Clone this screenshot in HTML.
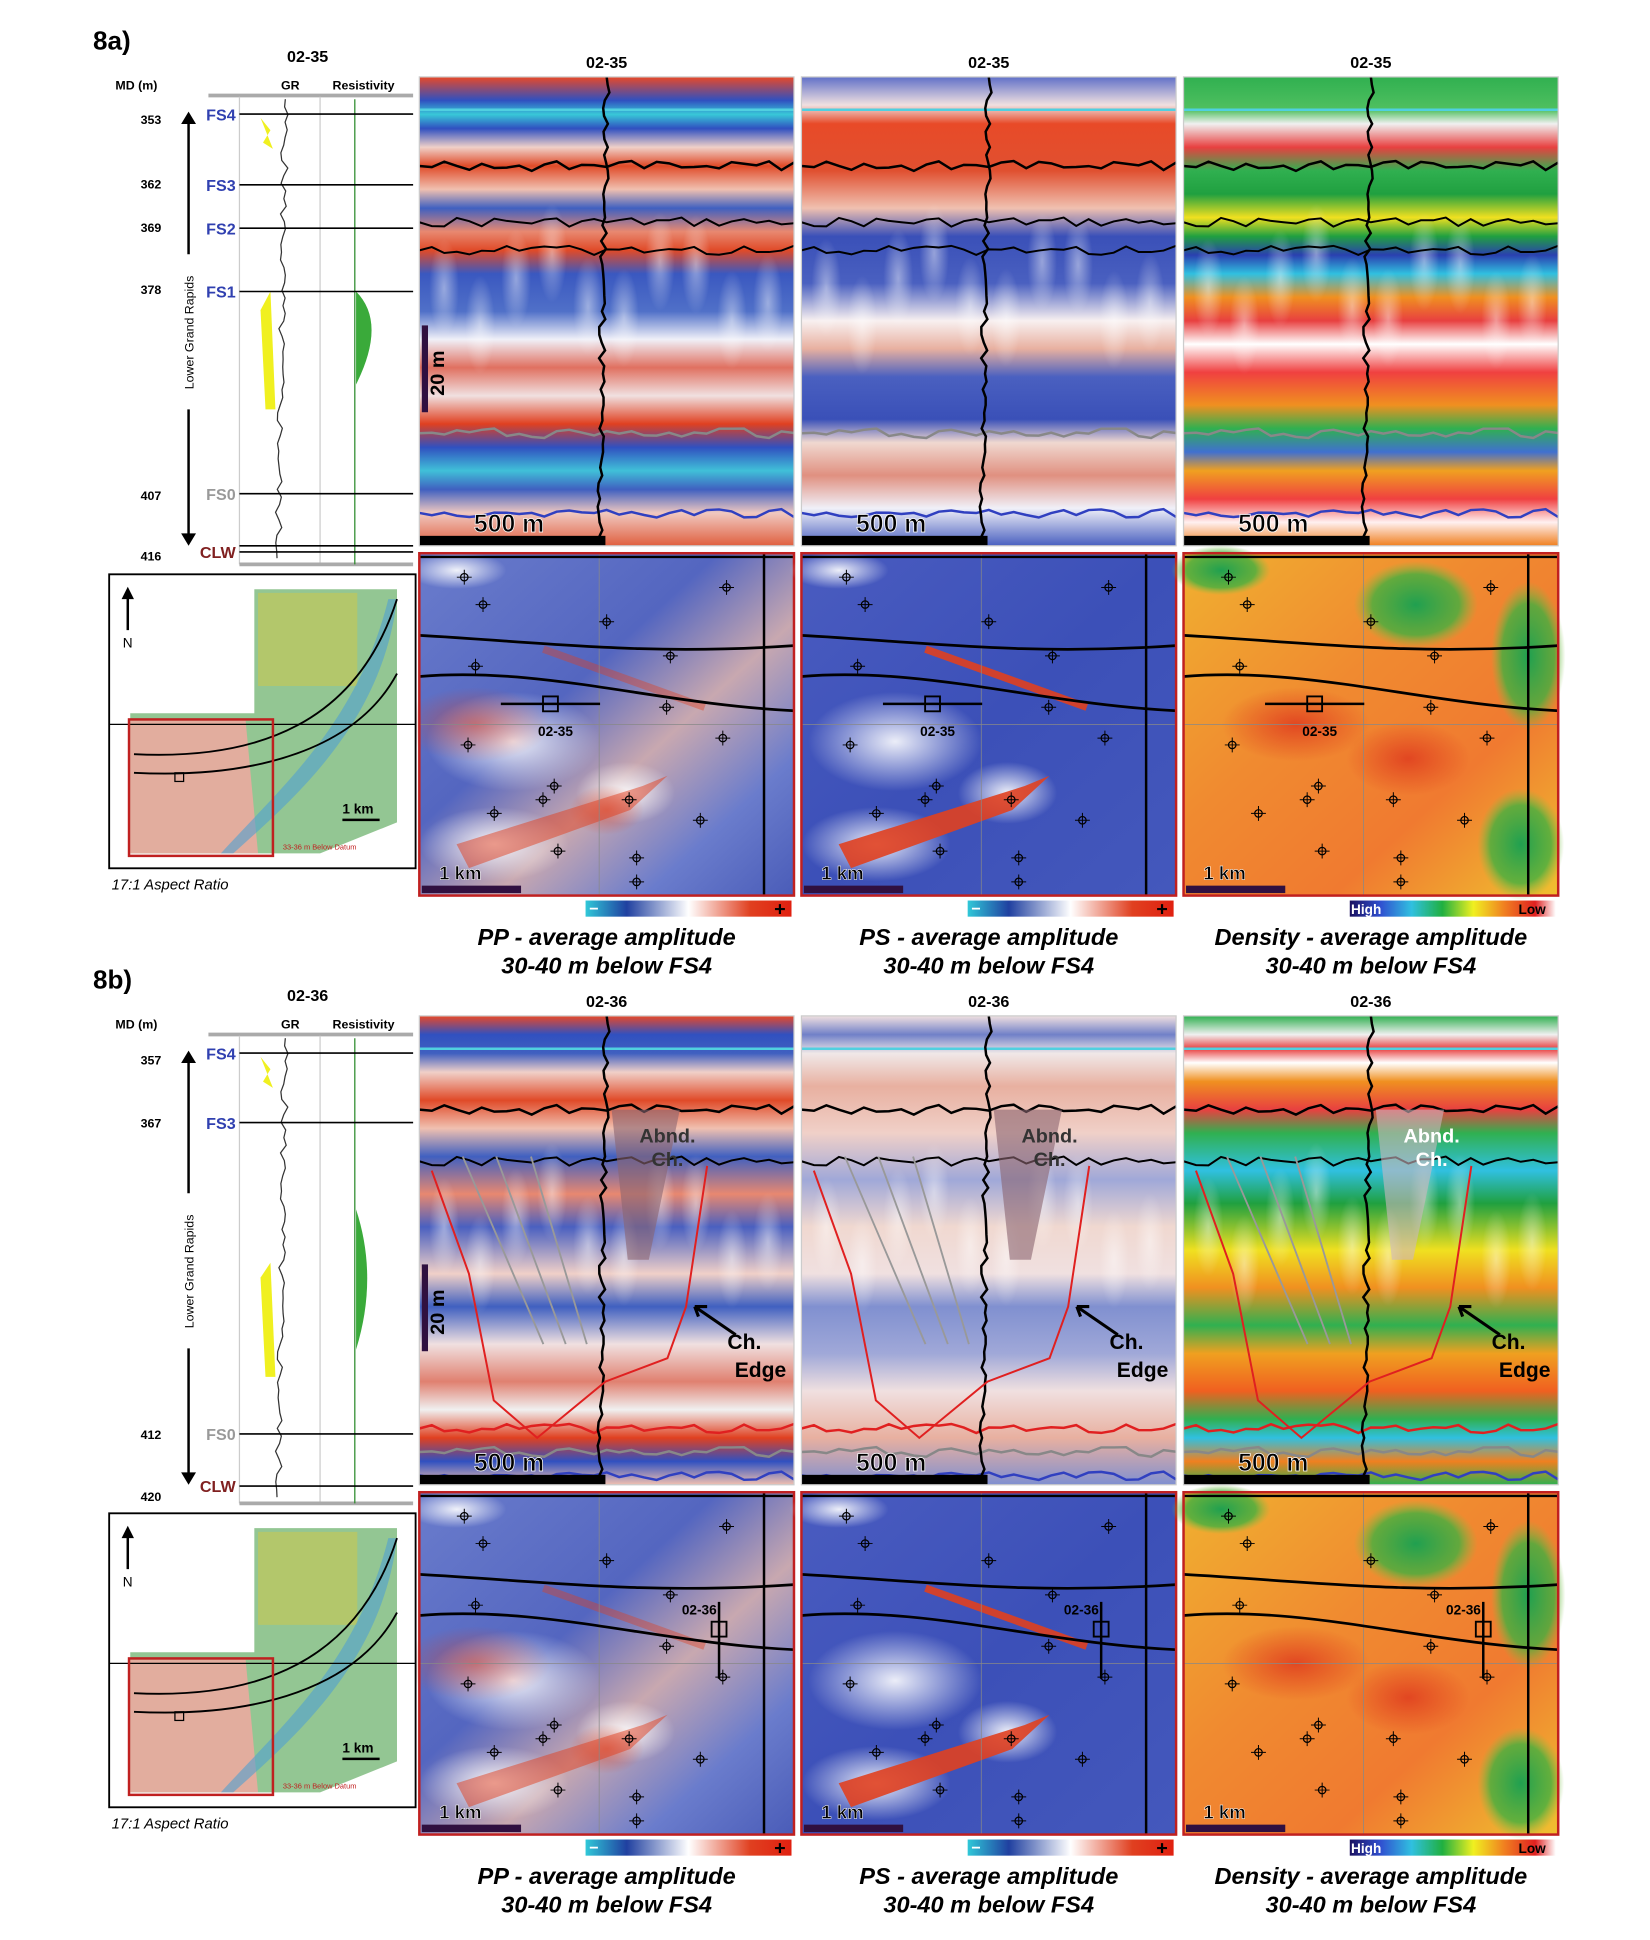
<!DOCTYPE html>
<html><head><meta charset="utf-8"><style>
html,body{margin:0;padding:0;background:#fff;width:1650px;height:1940px;overflow:hidden}
svg text{font-family:"Liberation Sans",sans-serif}
</style></head><body>
<svg id="fig" width="1650" height="1940" viewBox="0 0 1330 1564" preserveAspectRatio="none" xmlns="http://www.w3.org/2000/svg">
<defs>
<linearGradient id="cbPP" x1="0" x2="1"><stop offset="0" stop-color="#30c8d8"/><stop offset=".2" stop-color="#2040a0"/><stop offset=".5" stop-color="#ffffff"/><stop offset=".8" stop-color="#e04020"/><stop offset="1" stop-color="#e02010"/></linearGradient>
<linearGradient id="cbD" x1="0" x2="1"><stop offset="0" stop-color="#1a1060"/><stop offset=".15" stop-color="#3050d0"/><stop offset=".3" stop-color="#30c0e0"/><stop offset=".45" stop-color="#20b040"/><stop offset=".6" stop-color="#f0f020"/><stop offset=".75" stop-color="#f08020"/><stop offset=".9" stop-color="#e02020"/><stop offset="1" stop-color="#ffffff"/></linearGradient>
<linearGradient id="mapPP" x1="0" y1="0" x2="1" y2="1"><stop offset="0" stop-color="#6a7ccc"/><stop offset=".4" stop-color="#5466c0"/><stop offset=".6" stop-color="#c8a8b0"/><stop offset=".8" stop-color="#6a7ccc"/><stop offset="1" stop-color="#4a5cb8"/></linearGradient>
<linearGradient id="mapPS" x1="0" y1="0" x2="1" y2="1"><stop offset="0" stop-color="#4a5cc0"/><stop offset=".5" stop-color="#3c50b8"/><stop offset="1" stop-color="#4458bc"/></linearGradient>
<linearGradient id="mapD" x1="0" y1="0" x2="1" y2="1"><stop offset="0" stop-color="#f0b030"/><stop offset=".4" stop-color="#f08a30"/><stop offset=".7" stop-color="#f07a30"/><stop offset="1" stop-color="#f0c030"/></linearGradient>
<radialGradient id="grn"><stop offset="0" stop-color="#20a050"/><stop offset=".7" stop-color="#40b040" stop-opacity=".8"/><stop offset="1" stop-color="#80c040" stop-opacity="0"/></radialGradient>
<radialGradient id="wht"><stop offset="0" stop-color="#ffffff" stop-opacity=".9"/><stop offset="1" stop-color="#ffffff" stop-opacity="0"/></radialGradient>
<radialGradient id="red"><stop offset="0" stop-color="#e04020" stop-opacity=".9"/><stop offset="1" stop-color="#e04020" stop-opacity="0"/></radialGradient>
</defs>
</svg>
<script>
const NS='http://www.w3.org/2000/svg';
const svg=document.getElementById('fig');
// data arrays
const depthsA=[353,362,369,378,407,416];
const depthYA=[96,148,183,233,399,448];
const topsA=['FS4','FS3','FS2','FS1','FS0','CLW'];
const topYA=[92,149,184,235,398,445];
const depthsB=[357,367,412,420];
const depthYB=[854,905,1156,1206];
const topsB=['FS4','FS3','FS0','CLW'];
const topYB=[849,905,1156,1198];
const panelTitles=['PP - average amplitude','PS - average amplitude','Density - average amplitude'];
const ppBands=[[0,'#e84828'],[.05,'#3050c0'],[.08,'#38c8d8'],[.11,'#3050c0'],[.15,'#f0d0c8'],[.19,'#e04a28'],[.24,'#f0c0b0'],[.28,'#4060c0'],[.33,'#e88870'],[.37,'#e04a28'],[.42,'#3a58c0'],[.5,'#5070c8'],[.56,'#f0f0f8'],[.62,'#e07060'],[.68,'#f0e0e0'],[.74,'#e04020'],[.79,'#3050c0'],[.84,'#40c0d8'],[.88,'#4060c0'],[.93,'#f0c8c0'],[1,'#e06040']];
const psBands=[[0,'#6070c8'],[.06,'#f0e0e0'],[.1,'#e84a28'],[.2,'#e05030'],[.28,'#f0c0b0'],[.34,'#3a50b8'],[.44,'#4a60c0'],[.52,'#f8f0f0'],[.58,'#e8b0a0'],[.64,'#4a60c0'],[.73,'#3a50b8'],[.78,'#f0d8d0'],[.85,'#e09080'],[.92,'#f0f0f8'],[1,'#4a60c0']];
const dBands=[[0,'#30b050'],[.07,'#50c060'],[.1,'#f0f0f0'],[.15,'#e84040'],[.2,'#30b050'],[.25,'#20a040'],[.3,'#f0e020'],[.34,'#20a040'],[.38,'#2a40b0'],[.42,'#30c0e0'],[.47,'#f09020'],[.52,'#e84040'],[.57,'#ffffff'],[.63,'#f04040'],[.7,'#f09020'],[.75,'#30b050'],[.8,'#4070d0'],[.84,'#f0a020'],[.9,'#f04040'],[.95,'#fff0f0'],[1,'#f08020']];
const ppBandsB=[[0,'#e84828'],[.04,'#3050c0'],[.08,'#4060c0'],[.12,'#f0d0c8'],[.18,'#e04a28'],[.24,'#f0c0b0'],[.3,'#4060c0'],[.38,'#e88870'],[.45,'#4a60c0'],[.55,'#f0d0c8'],[.62,'#4060c0'],[.7,'#f0e0e0'],[.78,'#e08070'],[.84,'#f0f0f0'],[.9,'#e04020'],[.95,'#3050c0'],[1,'#f0c0b0']];
const psBandsB=[[0,'#f0e0e0'],[.04,'#7080c8'],[.08,'#f0e8e8'],[.15,'#e8b0a0'],[.25,'#f0d0c8'],[.35,'#a0a8d8'],[.45,'#f0d8d0'],[.55,'#f0e0e0'],[.62,'#8090d0'],[.72,'#a0a8d8'],[.8,'#f0e0e0'],[.9,'#e8b0a0'],[1,'#8090d0']];
const dBandsB=[[0,'#30b050'],[.04,'#f0f0f0'],[.07,'#e84040'],[.1,'#ffffff'],[.14,'#f09020'],[.2,'#e84040'],[.25,'#30b050'],[.33,'#30c0e0'],[.4,'#20a040'],[.5,'#f0e020'],[.58,'#f09020'],[.66,'#30b050'],[.72,'#f0a020'],[.8,'#f06020'],[.86,'#30b050'],[.9,'#30c0e0'],[.95,'#f08020'],[1,'#30b050']];
const horizA=[[.07,'#50d0e0',2],[.19,'#000',2],[.31,'#000',1.6],[.37,'#000',1.6],[.76,'#888',2],[.93,'#3040c0',2]];
const horizB=[[.07,'#50d0e0',2],[.2,'#000',2],[.31,'#000',1.6],[.88,'#e02020',2],[.93,'#888',2],[.98,'#3040c0',2]];
const wellsMap=[[.12,.07],[.17,.15],[.5,.2],[.67,.3],[.82,.1],[.15,.33],[.66,.45],[.13,.56],[.81,.54],[.36,.68],[.33,.72],[.56,.72],[.2,.76],[.75,.78],[.37,.87],[.58,.89],[.58,.96]];
let uid=0;
function el(tag,attrs,parent,name,inter){const e=document.createElementNS(NS,tag);for(const k in attrs)e.setAttribute(k,attrs[k]);if(name){}(parent||svg).appendChild(e);return e;}
function txt(x,y,s,opts,parent,name){const t=el('text',Object.assign({x:x,y:y},opts||{}),parent,name,false);t.textContent=s;return t;}
function grad(bands){const id='g'+(uid++);const defs=svg.querySelector('defs');const g=el('linearGradient',{id:id,x1:0,y1:0,x2:0,y2:1},defs);bands.forEach(b=>el('stop',{offset:b[0],'stop-color':b[1]},g));return id;}
function jag(x0,y,w,amp,seed){let d='M'+x0+' '+y;let s=seed;for(let i=1;i<=30;i++){s=(s*9301+49297)%233280;d+=' L'+(x0+w*i/30).toFixed(1)+' '+(y+(s/233280-.5)*amp).toFixed(1);}return d;}
function wellTrace(x,y0,h,seed){let d='M'+x+' '+y0;let s=seed;for(let i=1;i<=60;i++){s=(s*9301+49297)%233280;d+=' L'+(x+(s/233280-.5)*6 - i*0.1).toFixed(1)+' '+(y0+h*i/60).toFixed(1);}return d;}

function seismic(x,y,bands,horiz,isB,kind){
  const w=302,h=378;
  const g=el('g',{},svg,'seismic-section-'+kind,false);
  el('rect',{x:x,y:y,width:w,height:h,fill:'url(#'+grad(bands)+')'},g,'seismic-image',false);
  // texture
  for(let i=0;i<10;i++){el('ellipse',{cx:x+20+i*29,cy:y+h*(.45+.08*Math.sin(i*1.7)),rx:12,ry:40,fill:'url(#wht)',opacity:.5},g);}
  horiz.forEach((hz,i)=>el('path',{d:hz[1]=='#50d0e0'?('M'+x+' '+(y+h*hz[0])+' h'+w):jag(x,y+h*hz[0],w,8,i*7+3),stroke:hz[1],'stroke-width':hz[2],fill:'none'},g,'horizon-line',false));
  el('path',{d:wellTrace(x+w*.5,y,h,11),stroke:'#000','stroke-width':2,fill:'none'},g,'well-trace',false);
  if(isB){
    el('path',{d:`M${x+10} ${y+h*.33} L${x+40} ${y+h*.55} L${x+60} ${y+h*.82} L${x+95} ${y+h*.9} L${x+150} ${y+h*.78} L${x+200} ${y+h*.73} L${x+215} ${y+h*.62} L${x+232} ${y+h*.32}`,stroke:'#e02020','stroke-width':1.6,fill:'none'},g,'channel-edge-line',false);
    el('path',{d:`M${x+155} ${y+h*.2} L${x+210} ${y+h*.2} L${x+185} ${y+h*.52} L${x+168} ${y+h*.52} Z`,fill:kind=='density'?'#cdb8c0':'#8a6470',opacity:.6},g,'abandoned-channel-shade',false);
    const ab=txt(x+200,y+h*.27,'Abnd.',{'font-size':16,'font-weight':'bold','text-anchor':'middle',fill:kind=='density'?'#fff':'#333'},g,'abandoned-channel-label');
    txt(x+200,y+h*.32,'Ch.',{'font-size':16,'font-weight':'bold','text-anchor':'middle',fill:kind=='density'?'#fff':'#333'},g,'abandoned-channel-label-2');
    [[35,100],[62,118],[90,135]].forEach(a=>el('path',{d:`M${x+a[0]} ${y+h*.3} L${x+a[1]} ${y+h*.7}`,stroke:'#999','stroke-width':1.5,fill:'none'},g,'flow-arrow',false));
    el('path',{d:`M${x+255} ${y+h*.68} L${x+222} ${y+h*.62} M${x+222} ${y+h*.62} l10 0 M${x+222} ${y+h*.62} l3 8`,stroke:'#000','stroke-width':2.5,fill:'none'},g,'channel-edge-arrow',false);
    txt(x+262,y+h*.71,'Ch.',{'font-size':17,'font-weight':'bold','text-anchor':'middle'},g,'channel-edge-label');
    txt(x+275,y+h*.77,'Edge',{'font-size':17,'font-weight':'bold','text-anchor':'middle'},g,'channel-edge-label-2');
  }
  if(kind=='pp'){el('rect',{x:x+2,y:y+h*.53,width:5,height:70,fill:'#301040'},g,'vertical-scale-bar',false);
    txt(x+20,y+h*.68,'20 m',{'font-size':16,'font-weight':'bold',transform:`rotate(-90 ${x+20} ${y+h*.68})`},g,'vertical-scale-label');}
  el('rect',{x:x,y:y+h-8,width:150,height:8,fill:'#000'},g,'horizontal-scale-bar',false);
  txt(x+44,y+h-11,'500 m',{'font-size':20,'font-weight':'bold',stroke:'#fff','stroke-width':.6},g,'horizontal-scale-label');
  el('rect',{x:x,y:y,width:w,height:h,fill:'none',stroke:'#ccc','stroke-width':1},g);
}
function mapPanel(x,y,kind,isB,label){
  const w=302,h=276;
  const g=el('g',{},svg,'map-'+kind,false);
  el('rect',{x:x,y:y,width:w,height:h,fill:kind=='density'?'url(#mapD)':kind=='pp'?'url(#mapPP)':'url(#mapPS)'},g,'map-image',false);
  if(kind=='density'){[[.62,.15,50,35],[.92,.3,30,60],[.9,.85,35,45],[.1,.05,40,20]].forEach(b=>el('ellipse',{cx:x+w*b[0],cy:y+h*b[1],rx:b[2],ry:b[3],fill:'url(#grn)'},g));
    [[.3,.5,60,30],[.6,.6,50,30]].forEach(b=>el('ellipse',{cx:x+w*b[0],cy:y+h*b[1],rx:b[2],ry:b[3],fill:'url(#red)'},g));}
  else{[[.25,.55,70,40],[.2,.85,60,30],[.55,.7,40,25],[.1,.05,40,15]].forEach(b=>el('ellipse',{cx:x+w*b[0],cy:y+h*b[1],rx:b[2],ry:b[3],fill:'url(#wht)'},g));
    if(kind=='pp')[[.15,.5,60,30],[.5,.75,30,20]].forEach(b=>el('ellipse',{cx:x+w*b[0],cy:y+h*b[1],rx:b[2],ry:b[3],fill:'url(#red)',opacity:.6},g));
    el('path',{d:`M${x+40} ${y+h*.92} L${x+170} ${y+h*.75} L${x+200} ${y+h*.65} L${x+180} ${y+h*.68} L${x+30} ${y+h*.85}Z`,fill:'#e04020',opacity:kind=='ps'?.9:.5},g,'red-feature',false);
    el('path',{d:`M${x+100} ${y+h*.28} L${x+230} ${y+h*.45}`,stroke:'#e04020','stroke-width':6,opacity:kind=='ps'?.9:.4},g,'red-channel',false);}
  el('path',{d:`M${x+w*.48} ${y} V${y+h} M${x} ${y+h*.5} H${x+w}`,stroke:'#888','stroke-width':.6,fill:'none'},g,'grid',false);
  el('path',{d:`M${x} ${y+h*.24} C${x+100} ${y+h*.26} ${x+180} ${y+h*.3} ${x+w} ${y+h*.27}`,stroke:'#000','stroke-width':2.2,fill:'none'},g,'fault-line',false);
  el('path',{d:`M${x} ${y+h*.36} C${x+100} ${y+h*.33} ${x+190} ${y+h*.44} ${x+w} ${y+h*.46}`,stroke:'#000','stroke-width':2.2,fill:'none'},g,'fault-line',false);
  el('path',{d:`M${x+w*.92} ${y} V${y+h}`,stroke:'#000','stroke-width':2,fill:'none'},g,'boundary-line',false);
  el('path',{d:`M${x} ${y+3} H${x+w}`,stroke:'#000','stroke-width':2,fill:'none'},g);
  wellsMap.forEach(p=>{const cx=x+w*p[0],cy=y+h*p[1];const wg=el('g',{},g,'well-symbol',true);
    el('circle',{cx:cx,cy:cy,r:3,fill:'none',stroke:'#000','stroke-width':1},wg);
    el('path',{d:`M${cx-6} ${cy}H${cx+6}M${cx} ${cy-6}V${cy+6}`,stroke:'#000','stroke-width':.8},wg);});
  const wx=isB?x+w*.8:x+w*.35, wy=isB?y+h*.4:y+h*.44;
  el('rect',{x:wx-6,y:wy-6,width:12,height:12,fill:'none',stroke:'#000','stroke-width':1.5},g,'well-location',true);
  if(isB)el('path',{d:`M${wx} ${wy-22}V${wy+40}`,stroke:'#000','stroke-width':2},g);
  else el('path',{d:`M${wx-40} ${wy}H${wx+40}`,stroke:'#000','stroke-width':2},g);
  txt(isB?wx-30:wx-10,isB?wy-12:wy+26,label,{'font-size':11,'font-weight':'bold'},g,'well-label');
  el('rect',{x:x+2,y:y+h-8,width:80,height:6,fill:'#301040'},g,'map-scale-bar',false);
  txt(x+16,y+h-13,'1 km',{'font-size':15,'font-weight':'bold',stroke:'#fff','stroke-width':.4},g,'map-scale-label');
  el('rect',{x:x,y:y,width:w,height:h,fill:'none',stroke:'#c02020','stroke-width':2},g,'map-frame',false);
  const cb=el('g',{},svg,'colorbar-'+kind,false);
  el('rect',{x:x+134,y:y+280,width:166,height:13,fill:kind=='density'?'url(#cbD)':'url(#cbPP)'},cb,'colorbar',false);
  if(kind=='density'){txt(x+135,y+291,'High',{'font-size':11,'font-weight':'bold',fill:'#fff'},cb,'colorbar-high-label');txt(x+270,y+291,'Low',{'font-size':11,'font-weight':'bold'},cb,'colorbar-low-label');}
  else{txt(x+137,y+291,'−',{'font-size':13,'font-weight':'bold',fill:'#fff'},cb,'colorbar-minus');txt(x+286,y+292,'+',{'font-size':16,'font-weight':'bold'},cb,'colorbar-plus');}
}
function wellLog(oy,title,depths,dy,tops,ty,isB){
  const g=el('g',{},svg,'well-log',false);
  txt(248,oy+50,title,{'font-size':13,'font-weight':'bold','text-anchor':'middle'},g,'well-log-title');
  txt(93,oy+72,'MD (m)',{'font-size':10,'font-weight':'bold'},g,'md-label');
  txt(234,oy+72,'GR',{'font-size':10,'font-weight':'bold','text-anchor':'middle'},g,'gr-label');
  txt(293,oy+72,'Resistivity',{'font-size':10,'font-weight':'bold','text-anchor':'middle'},g,'resistivity-label');
  el('path',{d:`M168 ${oy+77}H333`,stroke:'#aaa','stroke-width':3},g);
  el('path',{d:`M193 ${oy+78}V${oy+455} M258 ${oy+78}V${oy+455}`,stroke:'#ccc','stroke-width':1},g);
  el('path',{d:`M193 ${oy+455}H333`,stroke:'#aaa','stroke-width':3},g);
  // GR curve
  el('path',{d:wellTrace(230,oy+80,370,5),stroke:'#333','stroke-width':1,fill:'none'},g,'gr-curve',false);
  el('path',{d:`M218 ${oy+(isB?1018-757:235)} L210 ${oy+(isB?1030-757:250)} L214 ${oy+(isB?1110-757:330)} L222 ${oy+(isB?1110-757:330)}Z`,fill:'#f0f020'},g,'gr-sand-fill',false);
  el('path',{d:`M210 ${oy+95} l8 10 l-6 10 l8 5Z`,fill:'#f0f020'},g);
  el('path',{d:`M286 ${oy+80}V${oy+455}`,stroke:'#2a8a2a','stroke-width':1,fill:'none'},g,'resistivity-curve',false);
  el('path',{d:`M287 ${oy+(isB?975-757:235)} Q${isB?305:312} ${oy+(isB?1030-757:260)} 287 ${oy+(isB?1088-757:310)}Z`,fill:'#3aaa3a'},g,'resistivity-fill',false);
  depths.forEach((d,i)=>txt(130,dy[i]+4,String(d),{'font-size':10,'font-weight':'bold','text-anchor':'end'},g,'depth-label'));
  tops.forEach((t,i)=>{const c=t=='FS0'?'#999':t=='CLW'?'#802020':'#3040b0';
    txt(190,ty[i]+5,t,{'font-size':13,'font-weight':'bold','text-anchor':'end',fill:c},g,'top-label-'+t.toLowerCase());
    el('path',{d:`M193 ${ty[i]}H333`,stroke:'#000','stroke-width':1.3},g,'top-line',false);});
  if(!isB)el('path',{d:`M193 ${oy+440}H333`,stroke:'#000','stroke-width':1.3},g);
  const ay0=oy+90, ay1=oy+(isB?1197-757:440);
  el('path',{d:`M152 ${ay0+8}V${oy+205} M152 ${oy+330}V${ay1-8}`,stroke:'#000','stroke-width':2},g,'interval-arrow',false);
  el('path',{d:`M146 ${ay0+10}L152 ${ay0}L158 ${ay0+10}Z M146 ${ay1-10}L152 ${ay1}L158 ${ay1-10}Z`,fill:'#000'},g);
  txt(156,oy+268,'Lower Grand Rapids',{'font-size':10,'text-anchor':'middle',transform:`rotate(-90 156 ${oy+268})`},g,'formation-label');
}
function overview(oy,isB){
  const g=el('g',{},svg,'overview-map',false);
  const x=88,y=oy+463;
  el('rect',{x:x,y:y,width:247,height:237,fill:'#fff',stroke:'#000','stroke-width':1.5},g,'overview-frame',false);
  el('path',{d:`M${x+117} ${y+12}H${x+232}V${y+200}L${x+170} ${y+225}H${x+17}V${y+112}H${x+117}Z`,fill:'#78b878',opacity:.8},g,'survey-area',false);
  el('path',{d:`M${x+120} ${y+15}H${x+200}V${y+90}H${x+120}Z`,fill:'#c8c850',opacity:.6},g);
  el('path',{d:`M${x+17} ${y+118}H${x+110}L${x+120} ${y+225}H${x+17}Z`,fill:'#f0a8a0',opacity:.85},g,'pink-region',false);
  el('path',{d:`M${x+100} ${y+225}C${x+150} ${y+180} ${x+220} ${y+120} ${x+232} ${y+20}L${x+225} ${y+20}C${x+200} ${y+120} ${x+140} ${y+170} ${x+90} ${y+225}Z`,fill:'#50a0d0',opacity:.6},g);
  el('path',{d:`M${x+20} ${y+145}C${x+120} ${y+150} ${x+200} ${y+120} ${x+232} ${y+20} M${x+20} ${y+160}C${x+120} ${y+165} ${x+200} ${y+140} ${x+232} ${y+80}`,stroke:'#000','stroke-width':1.5,fill:'none'},g);
  el('path',{d:`M${x} ${y+121}H${x+247}`,stroke:'#000','stroke-width':1},g);
  el('rect',{x:x+16,y:y+117,width:116,height:110,fill:'none',stroke:'#c02020','stroke-width':2},g,'study-area-box',false);
  el('rect',{x:x+53,y:y+160,width:7,height:7,fill:'none',stroke:'#000'},g);
  el('path',{d:`M${x+15} ${y+45}V${y+15}`,stroke:'#000','stroke-width':2},g,'north-arrow',false);
  el('path',{d:`M${x+10} ${y+20}L${x+15} ${y+10}L${x+20} ${y+20}Z`,fill:'#000'},g);
  txt(x+11,y+59,'N',{'font-size':11},g,'north-label');
  el('path',{d:`M${x+188} ${y+198}H${x+218}`,stroke:'#000','stroke-width':2},g);
  txt(x+188,y+193,'1 km',{'font-size':11,'font-weight':'bold'},g,'overview-scale-label');
  txt(x+140,y+222,'33-36 m Below Datum',{'font-size':6,fill:'#c02020'},g,'datum-label');
  txt(90,oy+717,'17:1 Aspect Ratio',{'font-size':12,'font-style':'italic'},g,'aspect-ratio-label');
}
function figure(oy,lab,title,isB){
  txt(75,oy+40,lab,{'font-size':21,'font-weight':'bold','font-family':'"Liberation Serif",serif'},svg,'figure-label');
  wellLog(oy,title,isB?depthsB:depthsA,isB?depthYB:depthYA,isB?topsB:topsA,isB?topYB:topYA,isB);
  const xs=[338,646,954],kinds=['pp','ps','density'];
  const bands=isB?[ppBandsB,psBandsB,dBandsB]:[ppBands,psBands,dBands];
  xs.forEach((x,i)=>{
    txt(x+151,oy+55,title,{'font-size':13,'font-weight':'bold','text-anchor':'middle'},svg,'section-title');
    seismic(x,oy+62,bands[i],isB?horizB:horizA,isB,kinds[i]);
    mapPanel(x,oy+446,kinds[i],isB,title);
    txt(x+151,oy+762,panelTitles[i],{'font-size':19,'font-weight':'bold','font-style':'italic','text-anchor':'middle'},svg,'caption-line-1');
    txt(x+151,oy+785,'30-40 m below FS4',{'font-size':19,'font-weight':'bold','font-style':'italic','text-anchor':'middle'},svg,'caption-line-2');
  });
  overview(oy,isB);
}
figure(0,'8a)','02-35',false);
figure(757,'8b)','02-36',true);
</script>
</body></html>
